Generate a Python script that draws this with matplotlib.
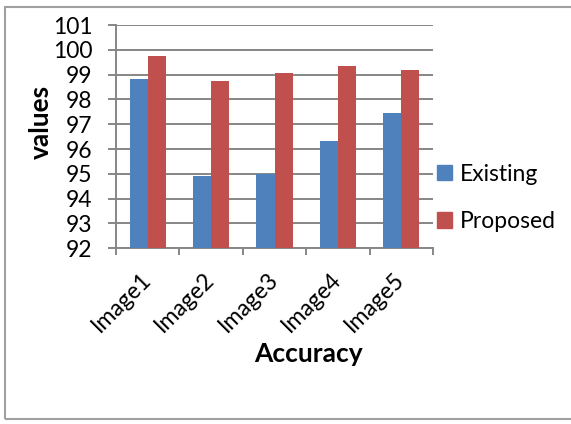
import matplotlib.pyplot as plt
import matplotlib.patches as mpatches
import numpy as np

categories = ["Image1", "Image2", "Image3", "Image4", "Image5"]
existing = [98.82, 94.92, 94.98, 96.32, 97.47]
proposed = [99.77, 98.73, 99.08, 99.36, 99.17]
series_names = ["Existing", "Proposed"]
yticks = [92, 93, 94, 95, 96, 97, 98, 99, 100, 101]

plt.rcParams['font.family'] = ['Lato', 'DejaVu Sans']
blue = '#4F81BD'
red = '#C0504D'
grey = '#868686'

fig = plt.figure(figsize=(5.71, 4.24), dpi=100)
ax = fig.add_axes([116/571, 1-248.3/424, 317/571, 223.3/424])

x = np.arange(len(categories))
w = 0.285
ax.bar(x - w/2, existing, w, color=blue, label=series_names[0], zorder=3)
ax.bar(x + w/2, proposed, w, color=red, label=series_names[1], zorder=3)

ax.set_xlim(-0.5, len(categories) - 0.5)
ax.set_ylim(yticks[0], yticks[-1])
ax.set_yticks(yticks)
ax.set_yticklabels([str(v) for v in yticks], fontsize=16.5)
ax.grid(axis='y', color=grey, linewidth=1.4, zorder=0)

# category labels at centres, tick marks at the boundaries
ax.set_xticks(x)
ax.set_xticklabels(categories, rotation=45, ha='right', va='center',
                   rotation_mode='anchor', fontsize=16.5)
ax.tick_params(axis='x', which='major', length=0, pad=20)
ax.set_xticks(np.arange(-0.5, len(categories)), minor=True)
ax.tick_params(axis='x', which='minor', length=5, width=1.4, color=grey)
ax.tick_params(axis='y', length=6, width=1.4, color=grey, pad=11)

for side in ['top', 'right']:
    ax.spines[side].set_visible(False)
for side in ['left', 'bottom']:
    ax.spines[side].set_color(grey)
    ax.spines[side].set_linewidth(1.4)

ax.set_ylabel("values", fontsize=19, fontweight='bold')
ax.yaxis.set_label_coords(-0.20, 0.566)
fig.text(308/571, 1-354/424, "Accuracy", fontsize=19, fontweight='bold',
         ha='center', va='center')

handles = [mpatches.Patch(color=blue), mpatches.Patch(color=red)]
fig.legend(handles, series_names, loc='center left',
           bbox_to_anchor=(428/571, 1-198/424), frameon=False, fontsize=16.5,
           handlelength=0.65, handleheight=0.65, handletextpad=0.35,
           labelspacing=1.15, borderaxespad=0)

# outer chart border
fig.patches.append(mpatches.Rectangle((5/571, 1-419/424), 1.0, 412/424,
                                      transform=fig.transFigure, fill=False,
                                      edgecolor='#A0A0A0', linewidth=1.5))

fig.savefig('out.png', dpi=100)
